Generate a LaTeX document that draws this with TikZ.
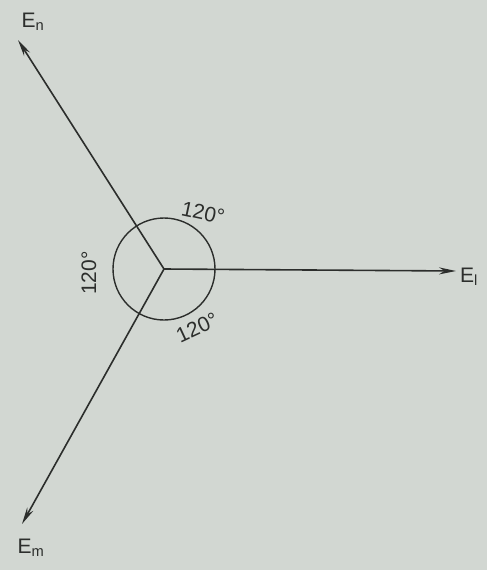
\documentclass[tikz,border=0pt]{standalone}
\usepackage{fontspec}
\setmainfont{Liberation Sans}
\usetikzlibrary{arrows.meta}
\definecolor{paper}{HTML}{D2D7D2}
\definecolor{ink}{HTML}{2C2E2C}
\begin{document}
\begin{tikzpicture}[x=1pt,y=-1pt,
  phasor/.style={draw=ink, line width=1.6pt, -{Stealth[length=17pt,width=7pt]}},
  lab/.style={text=ink, font=\fontsize{21}{23}\selectfont, inner sep=0pt},
  ang/.style={text=ink, font=\fontsize{21}{23}\selectfont, inner sep=0pt}]
\fill[paper] (0,0) rectangle (487,570);
\useasboundingbox (0,0) rectangle (487,570);
\coordinate (O) at (164,269);
\coordinate (tl) at (456,271);
\coordinate (tn) at (18,40);
\coordinate (tm) at (22,524);
\draw[phasor] (O) -- (tl);
\draw[phasor] (O) -- (tn);
\draw[phasor] (O) -- (tm);
\draw[ink, line width=1.4pt] (O) circle (51);
\node[lab, anchor=west] (El) at (460,277) {E\textsubscript{l}};
\node[lab] (En) at (33,22) {E\textsubscript{n}};
\node[lab] (Em) at (31,548) {E\textsubscript{m}};
\node[ang, rotate=-12] (a1) at (203,213) {120°};
\node[ang, rotate=90] (a2) at (89,273) {120°};
\node[ang, rotate=25] (a3) at (197,328) {120°};
\end{tikzpicture}
\end{document}
